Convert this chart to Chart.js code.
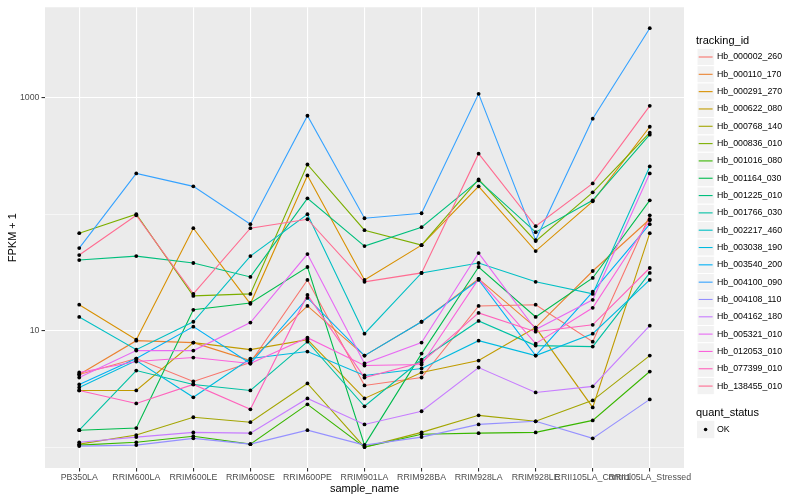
<!DOCTYPE html>
<html>
<head>
<meta charset="utf-8">
<script src="https://cdn.jsdelivr.net/npm/chart.js@4.4.1/dist/chart.umd.min.js"></script>
<style>
body { margin: 0; background: #fff; }
#wrap { width: 800px; height: 500px; }
</style>
</head>
<body>
<div id="wrap"><canvas id="myChart" width="800" height="500"></canvas></div>
<script>
// categories on the x axis
const sample_names = ['PB350LA', 'RRIM600LA', 'RRIM600LE', 'RRIM600SE', 'RRIM600PE', 'RRIM901LA',
    'RRIM928BA', 'RRIM928LA', 'RRIM928LE', 'RRII105LA_Control', 'RRII105LA_Stressed'];
const tracking_ids = ['Hb_000002_260', 'Hb_000110_170', 'Hb_000291_270', 'Hb_000622_080', 'Hb_000768_140',
    'Hb_000836_010', 'Hb_001016_080', 'Hb_001164_030', 'Hb_001225_010', 'Hb_001766_030', 'Hb_002217_460',
    'Hb_003038_190', 'Hb_003540_200', 'Hb_004100_090', 'Hb_004108_110', 'Hb_004162_180', 'Hb_005321_010',
    'Hb_012053_010', 'Hb_077399_010', 'Hb_138455_010'];
const line_colours = ['#F8766D', '#EA8331', '#D89000', '#C09B00', '#A3A500', '#7CAE00', '#39B600', '#00BB4E',
    '#00BF7D', '#00C1A3', '#00BFC4', '#00BAE0', '#00B0F6', '#35A2FF', '#9590FF', '#C77CFF', '#E76BF3',
    '#FA62DB', '#FF62BC', '#FF6C91'];
const y_breaks = [1, 10, 100, 1000];
const y_labels = ['', '10', '', '1000'];

// FPKM + 1 per sample, one array per gene
const hb_000002_260 = [4.24, 5.80, 3.69, 5.36, 27.4, 3.41, 3.99, 16.4, 16.8, 8.10, 98.3];
const hb_000110_170 = [4.24, 8.26, 7.95, 5.58, 16.4, 6.15, 12.0, 28.0, 10.7, 32.7, 90.9];
const hb_000291_270 = [16.8, 8.43, 76.2, 17.1, 216, 27.4, 54.5, 174, 48.5, 129.5, 565];
const hb_000622_080 = [3.09, 3.09, 7.95, 6.92, 8.43, 2.64, 4.41, 5.58, 10.7, 2.21, 69.0];
const hb_000768_140 = [1.07, 1.28, 1.82, 1.65, 3.55, 1.01, 1.35, 1.89, 1.68, 2.54, 6.15];
const hb_000836_010 = [69.0, 100.3, 20.0, 20.8, 268, 73.2, 54.5, 199.5, 59.0, 154.6, 502];
const hb_001016_080 = [1.05, 1.11, 1.25, 1.07, 2.35, 1.01, 1.30, 1.33, 1.35, 1.71, 4.49];
const hb_001164_030 = [1.41, 1.47, 15.2, 17.4, 35.4, 1.05, 6.40, 35.4, 13.2, 28.5, 132];
const hb_001225_010 = [40.6, 43.9, 38.3, 29.1, 137.4, 53.5, 77.7, 195.6, 70.4, 132, 483];
const hb_001766_030 = [1.41, 4.58, 3.48, 3.09, 8.10, 2.26, 5.69, 12.2, 7.49, 7.35, 31.5];
const hb_002217_460 = [13.2, 6.92, 12.0, 43.9, 100.3, 9.48, 31.5, 38.3, 26.4, 20.8, 258];
const hb_003038_190 = [3.28, 5.58, 2.70, 5.80, 6.66, 4.15, 4.77, 8.26, 6.15, 9.48, 27.4];
const hb_003540_200 = [3.48, 5.80, 10.9, 5.26, 19.2, 6.15, 12.0, 27.4, 6.15, 21.7, 82.4];
const hb_004100_090 = [51.4, 224.6, 174, 82.4, 702, 92.7, 102.3, 1082, 60.2, 662, 3958];
const hb_004108_110 = [1.03, 1.05, 1.20, 1.07, 1.41, 1.05, 1.23, 1.58, 1.68, 1.20, 2.59];
const hb_004162_180 = [1.11, 1.23, 1.35, 1.33, 2.64, 1.58, 2.05, 4.86, 2.97, 3.35, 11.1];
const hb_005321_010 = [3.99, 6.79, 6.79, 11.8, 45.7, 5.26, 7.95, 46.6, 10.3, 18.5, 224.6];
const hb_012053_010 = [4.41, 5.47, 5.92, 5.26, 8.77, 5.06, 5.16, 28.0, 7.79, 15.8, 89.1];
const hb_077399_010 = [3.09, 2.39, 3.48, 2.13, 20.4, 3.99, 5.36, 14.3, 9.86, 11.3, 34.7];
const hb_138455_010 = [44.8, 98.3, 20.8, 76.2, 90.9, 26.4, 31.5, 332, 79.2, 184.5, 854];

const series = [hb_000002_260, hb_000110_170, hb_000291_270, hb_000622_080, hb_000768_140, hb_000836_010,
    hb_001016_080, hb_001164_030, hb_001225_010, hb_001766_030, hb_002217_460, hb_003038_190, hb_003540_200,
    hb_004100_090, hb_004108_110, hb_004162_180, hb_005321_010, hb_012053_010, hb_077399_010, hb_138455_010];

const FONT = "'Liberation Sans', Arial, sans-serif";
Chart.defaults.font.family = FONT;

function isMajor(v) {
    return y_labels[y_breaks.indexOf(v)] !== '';
}

// grey panel like ggplot
const panelBg = {
    id: 'panelBg',
    beforeDraw(chart) {
        const ctx = chart.ctx, a = chart.chartArea;
        ctx.save();
        ctx.fillStyle = '#fff';
        ctx.fillRect(0, 0, chart.width, chart.height);
        ctx.fillStyle = '#EBEBEB';
        ctx.fillRect(a.left, a.top, a.right - a.left, a.bottom - a.top);
        ctx.restore();
    }
};

// legend drawn by hand (keys with grey boxes)
const ggLegend = {
    id: 'ggLegend',
    afterDraw(chart) {
        const ctx = chart.ctx;
        ctx.save();
        ctx.textBaseline = 'middle';
        ctx.textAlign = 'left';
        ctx.fillStyle = '#000';
        ctx.font = '11px ' + FONT;
        ctx.fillText('tracking_id', 696, 41);
        ctx.font = '8.8px ' + FONT;
        for (let i = 0; i < tracking_ids.length; i++) {
            const cy = 57 + i * 17.32;
            ctx.fillStyle = '#F2F2F2';
            ctx.fillRect(697, cy - 8.66, 17.3, 17.3);
            ctx.strokeStyle = '#fff';
            ctx.lineWidth = 1;
            ctx.strokeRect(697, cy - 8.66, 17.3, 17.3);
            ctx.strokeStyle = line_colours[i];
            ctx.lineWidth = 1.1;
            ctx.beginPath();
            ctx.moveTo(698.7, cy);
            ctx.lineTo(712.6, cy);
            ctx.stroke();
            ctx.fillStyle = '#000';
            ctx.fillText(tracking_ids[i], 717, cy);
        }
        ctx.font = '11px ' + FONT;
        ctx.fillText('quant_status', 696, 412.5);
        ctx.fillStyle = '#F2F2F2';
        ctx.fillRect(697, 429.5 - 8.66, 17.3, 17.3);
        ctx.fillStyle = '#000';
        ctx.beginPath();
        ctx.arc(705.6, 429.5, 1.8, 0, Math.PI * 2);
        ctx.fill();
        ctx.font = '8.8px ' + FONT;
        ctx.fillText('OK', 717, 429.5);
        ctx.restore();
    }
};

const datasets = [];
for (let i = 0; i < series.length; i++) {
    datasets.push({
        label: tracking_ids[i],
        data: series[i].map((v, j) => ({ x: j, y: v })),
        borderColor: line_colours[i],
        borderWidth: 1.1,
        pointRadius: 0,
        fill: false,
        tension: 0,
        order: series.length - i
    });
}
// all points on top of all lines
const allPoints = [];
for (let i = 0; i < series.length; i++) {
    for (let j = 0; j < series[i].length; j++) {
        allPoints.push({ x: j, y: series[i][j] });
    }
}
datasets.push({
    label: 'OK',
    data: allPoints,
    showLine: false,
    pointRadius: 1.9,
    pointBackgroundColor: '#000',
    pointBorderWidth: 0,
    order: -1
});

var ctx = document.getElementById('myChart');
var chart = new Chart(ctx, {
    type: 'line',
    data: { datasets: datasets },
    options: {
        responsive: false,
        animation: false,
        layout: { padding: { left: 0, top: 5, right: 116, bottom: 0 } },
        plugins: {
            legend: { display: false },
            tooltip: { enabled: false }
        },
        scales: {
            x: {
                type: 'linear',
                min: -0.6,
                max: 10.6,
                afterBuildTicks: s => { s.ticks = sample_names.map((n, i) => ({ value: i })); },
                afterFit: s => { s.height = 32; },
                ticks: {
                    callback: v => sample_names[v],
                    autoSkip: false,
                    maxRotation: 0,
                    minRotation: 0,
                    color: '#4D4D4D',
                    font: { size: 8.8 },
                    padding: 1
                },
                grid: { color: '#fff', lineWidth: 1.1, tickLength: 3.5, tickColor: '#333', tickWidth: 1.1 },
                border: { display: false },
                title: { display: true, text: 'sample_name', color: '#000', font: { size: 11 }, padding: { top: 0, bottom: 4 } }
            },
            y: {
                type: 'logarithmic',
                min: 0.668,
                max: 5980,
                afterBuildTicks: s => { s.ticks = y_breaks.map(v => ({ value: v })); },
                afterFit: s => { s.width = 45; },
                ticks: {
                    callback: v => y_labels[y_breaks.indexOf(v)],
                    autoSkip: false,
                    color: '#4D4D4D',
                    font: { size: 8.8 },
                    padding: 2
                },
                grid: {
                    color: '#fff',
                    lineWidth: c => (c.tick && isMajor(c.tick.value)) ? 1.1 : 0.55,
                    tickLength: 3.5,
                    tickColor: c => (c.tick && isMajor(c.tick.value)) ? '#333' : 'rgba(0,0,0,0)',
                    tickWidth: 1.1
                },
                border: { display: false },
                title: { display: true, text: 'FPKM + 1', color: '#000', font: { size: 11 }, padding: { top: 6, bottom: 0 } }
            }
        }
    },
    plugins: [panelBg, ggLegend]
});
</script>
</body>
</html>
